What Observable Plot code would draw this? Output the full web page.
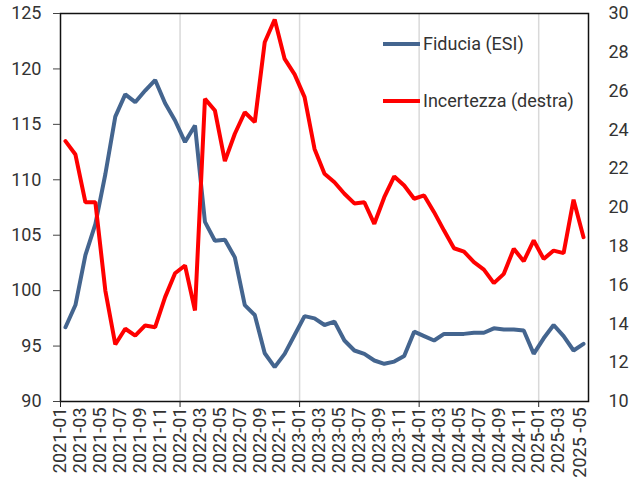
<!DOCTYPE html>
<html><head><meta charset="utf-8">
<script src="https://cdn.jsdelivr.net/npm/d3@7"></script>
<script src="https://cdn.jsdelivr.net/npm/@observablehq/plot@0.6"></script>
<style>
body{margin:0;background:#fff}
#chart{position:relative;width:638px;height:477px}
</style>
</head><body><div id="chart"></div>
<script>
const months = ["2021-01","2021-02","2021-03","2021-04","2021-05","2021-06","2021-07","2021-08","2021-09","2021-10","2021-11","2021-12",
"2022-01","2022-02","2022-03","2022-04","2022-05","2022-06","2022-07","2022-08","2022-09","2022-10","2022-11","2022-12",
"2023-01","2023-02","2023-03","2023-04","2023-05","2023-06","2023-07","2023-08","2023-09","2023-10","2023-11","2023-12",
"2024-01","2024-02","2024-03","2024-04","2024-05","2024-06","2024-07","2024-08","2024-09","2024-10","2024-11","2024-12",
"2025-01","2025-02","2025-03","2025-04","2025-05"];
const fiducia = [96.7,98.7,103.2,106.0,110.5,115.7,117.7,117.0,118.05,119.0,116.9,115.35,
113.4,114.9,106.2,104.5,104.6,103.0,98.7,97.8,94.35,93.1,94.3,96.0,
97.7,97.5,96.9,97.2,95.5,94.6,94.3,93.7,93.4,93.6,94.1,96.3,
95.9,95.5,96.1,96.1,96.1,96.2,96.2,96.6,96.5,96.5,96.4,94.3,
95.7,96.9,95.9,94.6,95.2];
const incertezza = [23.42,22.73,20.27,20.27,15.72,12.94,13.75,13.4,13.92,13.83,15.38,16.61,
17.01,14.69,25.6,25.0,22.39,23.8,24.91,24.4,28.52,29.69,27.66,26.86,
25.69,23.02,21.74,21.3,20.71,20.21,20.27,19.16,20.53,21.6,21.13,20.45,
20.62,19.76,18.81,17.9,17.73,17.18,16.8,16.1,16.58,17.87,17.23,18.3,
17.35,17.78,17.65,20.4,18.47];
const xTickLabels = ["2021-01","2021-03","2021-05","2021-07","2021-09","2021-11",
"2022-01","2022-03","2022-05","2022-07","2022-09","2022-11",
"2023-01","2023-03","2023-05","2023-07","2023-09","2023-11",
"2024-01","2024-03","2024-05","2024-07","2024-09","2024-11",
"2025-01","2025-03","2025 -05"];
const leftTicks = [90,95,100,105,110,115,120,125];
const rightTicks = [10,12,14,16,18,20,22,24,26,28,30];
const seriesNames = ["Fiducia (ESI)","Incertezza (destra)"];
const colors = ["#44658f","#ff0000"];

const data = months.map((m,i)=>({i, m, f: fiducia[i], u: incertezza[i]}));
const toLeft = v => 90 + (v - 10) * 35 / 20;
const fromLeft = v => Math.round(10 + (v - 90) * 20 / 35);

// label positions at category boundaries (Excel date axis style)
const labelPos = xTickLabels.map((l,k)=> k === xTickLabels.length-1 ? 2*k - 0.3 : 2*k - 0.5);
const labelMap = new Map(labelPos.map((p,k)=>[p, xTickLabels[k]]));
const janIdx = months.map((m,i)=>m.endsWith("-01") ? i : null).filter(v=>v!==null);
const janBounds = janIdx.map(i=>i-0.5);

const chart = Plot.plot({
  width: 638, height: 477,
  marginLeft: 60, marginRight: 50, marginTop: 13, marginBottom: 76,
  style: {fontFamily: "Roboto, sans-serif", fontSize: "18px", color: "#333", background: "#fff"},
  x: {domain: [-0.5, months.length - 0.5], axis: null},
  y: {domain: [90, 125], axis: null},
  marks: [
    Plot.ruleX(janBounds.slice(1), {stroke: "#d9d9d9", strokeWidth: 1.5}),
    Plot.line(data, {x: "i", y: "f", stroke: colors[0], strokeWidth: 4, strokeLinejoin: "miter"}),
    Plot.line(data, {x: "i", y: d => toLeft(d.u), stroke: colors[1], strokeWidth: 4, strokeLinejoin: "miter"}),
    Plot.frame({stroke: "#111", strokeWidth: 1.5}),
    Plot.axisY({ticks: leftTicks, anchor: "left", label: null, tickSize: 7, tickPadding: 12, stroke: "#444", fill: "#333", fontSize: 18}),
    Plot.axisY({ticks: rightTicks.map(toLeft), anchor: "right", label: null, tickSize: 0, tickPadding: 20, tickFormat: fromLeft, fill: "#333", fontSize: 18}),
    Plot.axisX({ticks: janBounds, anchor: "bottom", label: null, tickSize: 6, tickFormat: () => "", stroke: "#222"}),
    Plot.axisX({ticks: labelPos, anchor: "bottom", label: null, tickSize: 0, tickPadding: 6, tickRotate: -90, tickFormat: p => labelMap.get(p), fill: "#333", fontSize: 18})
  ]
});
document.getElementById("chart").appendChild(chart);

// legend
const svg = d3.select(chart);
const lg = svg.append("g").attr("font-family","Roboto, sans-serif").attr("font-size",18)
  .attr("fill","#333").attr("text-anchor","start");
const legendRows = [44, 101];
seriesNames.forEach((name,k)=>{
  const y = legendRows[k];
  lg.append("line").attr("x1",383).attr("x2",420).attr("y1",y).attr("y2",y)
    .attr("stroke",colors[k]).attr("stroke-width",4);
  lg.append("text").attr("x",423).attr("y",y).attr("dy","0.35em").text(name);
});
</script>
</body></html>
